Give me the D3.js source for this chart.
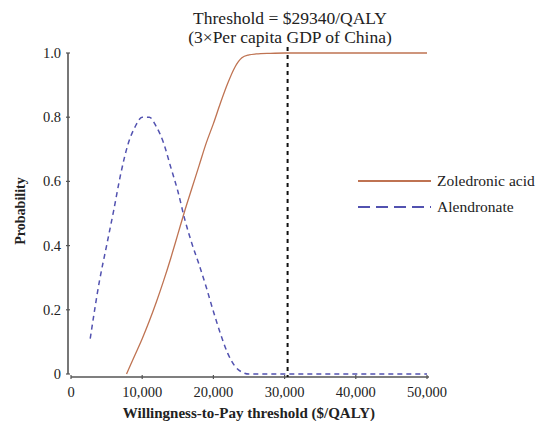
<!DOCTYPE html>
<html>
<head>
<meta charset="utf-8">
<script src="https://cdn.jsdelivr.net/npm/d3@7"></script>
<style>
  body { margin: 0; background: #fff; }
  svg text { font-family: "Liberation Serif", "Times New Roman", serif; fill: #222; }
</style>
</head>
<body>
<div id="chart"></div>
<script>
// DATA
const zolWtp = [7800, 9000, 10000, 11000, 12000, 13000, 14000, 15000, 16000, 17000, 18000,
                19000, 20000, 21000, 22000, 23000, 24000, 25000, 26000, 28000, 30000, 40000, 50000];
const zolProb = [0, 0.06, 0.11, 0.165, 0.225, 0.29, 0.36, 0.435, 0.51, 0.58, 0.65,
                 0.72, 0.78, 0.845, 0.905, 0.955, 0.985, 0.994, 0.997, 0.999, 1, 1, 1];

const alnWtp = [2700, 4000, 5000, 6000, 7000, 8000, 9000, 10000, 11000, 12000, 13000, 14000,
                15000, 16000, 17000, 18000, 19000, 20000, 21000, 22000, 23000, 24000, 25000,
                27000, 30000, 40000, 50000];
const alnProb = [0.11, 0.29, 0.40, 0.51, 0.625, 0.715, 0.77, 0.80, 0.80, 0.77, 0.72, 0.645,
                 0.57, 0.48, 0.405, 0.34, 0.27, 0.195, 0.125, 0.065, 0.025, 0.006, 0,
                 0, 0, 0, 0];

const xTicks = [0, 10000, 20000, 30000, 40000, 50000];
const yTicks = [0, 0.2, 0.4, 0.6, 0.8, 1.0];
const thresholdWtp = 30000;
const titleLines = ["Threshold = $29340/QALY", "(3\u00d7Per capita GDP of China)"];
const seriesNames = ["Zoledronic acid", "Alendronate"];

// LAYOUT
const width = 543, height = 421;
const zolColor = "#bf7352";
const alnColor = "#5252b0";

const svg = d3.select("#chart").append("svg")
    .attr("width", width)
    .attr("height", height);

const x = d3.scaleLinear().domain([0, 50000]).range([71, 427]);
const y = d3.scaleLinear().domain([0, 1]).range([374, 53]);
const xAxisY = 377;

// Y axis
svg.append("line")
    .attr("x1", 68).attr("x2", 68)
    .attr("y1", y(1)).attr("y2", y(0))
    .attr("stroke", "#555").attr("stroke-width", 1.6);

yTicks.forEach(t => {
    svg.append("line")
        .attr("x1", 66).attr("x2", 70)
        .attr("y1", y(t)).attr("y2", y(t))
        .attr("stroke", "#555").attr("stroke-width", 1.2);
    svg.append("text")
        .attr("x", 61).attr("y", y(t) + 5)
        .attr("text-anchor", "end")
        .attr("font-size", 14.5)
        .text(t === 0 ? "0" : d3.format(".1f")(t));
});

// X axis
svg.append("line")
    .attr("x1", x(0)).attr("x2", x(50000) + 2)
    .attr("y1", xAxisY).attr("y2", xAxisY)
    .attr("stroke", "#555").attr("stroke-width", 1.6);

xTicks.forEach(t => {
    svg.append("line")
        .attr("x1", x(t)).attr("x2", x(t))
        .attr("y1", xAxisY - 2).attr("y2", xAxisY + 2)
        .attr("stroke", "#555").attr("stroke-width", 1.2);
    svg.append("text")
        .attr("x", x(t)).attr("y", 397)
        .attr("text-anchor", "middle")
        .attr("font-size", 14.5)
        .text(d3.format(",")(t));
});

// Axis titles
svg.append("text")
    .attr("x", (x(0) + x(50000)) / 2).attr("y", 418)
    .attr("text-anchor", "middle")
    .attr("font-size", 15).attr("font-weight", "bold")
    .text("Willingness-to-Pay threshold ($/QALY)");

svg.append("text")
    .attr("transform", "translate(25,211) rotate(-90)")
    .attr("text-anchor", "middle")
    .attr("font-size", 14).attr("font-weight", "bold")
    .text("Probability");

// Threshold line and label
svg.append("line")
    .attr("x1", x(thresholdWtp) + 3).attr("x2", x(thresholdWtp) + 3)
    .attr("y1", 47).attr("y2", xAxisY)
    .attr("stroke", "#111").attr("stroke-width", 2)
    .attr("stroke-dasharray", "4,4");

titleLines.forEach((t, i) => {
    svg.append("text")
        .attr("x", 290).attr("y", 24 + i * 19)
        .attr("text-anchor", "middle")
        .attr("font-size", 17.5)
        .text(t);
});

// Curves
const line = d3.line()
    .x(d => x(d[0]))
    .y(d => y(d[1]))
    .curve(d3.curveMonotoneX);

svg.append("path")
    .datum(d3.zip(zolWtp, zolProb))
    .attr("d", line)
    .attr("fill", "none")
    .attr("stroke", zolColor).attr("stroke-width", 1.3);

svg.append("path")
    .datum(d3.zip(alnWtp, alnProb))
    .attr("d", line)
    .attr("fill", "none")
    .attr("stroke", alnColor).attr("stroke-width", 1.5)
    .attr("stroke-dasharray", "5,4");

// Legend
const legend = svg.append("g");
[[zolColor, null, 181], [alnColor, "12,6", 207]].forEach((l, i) => {
    legend.append("line")
        .attr("x1", 358).attr("x2", 431)
        .attr("y1", l[2]).attr("y2", l[2])
        .attr("stroke", l[0]).attr("stroke-width", 2)
        .attr("stroke-dasharray", l[1]);
    legend.append("text")
        .attr("x", 437).attr("y", l[2] + 5)
        .attr("font-size", 15.5)
        .text(seriesNames[i]);
});
</script>
</body>
</html>
